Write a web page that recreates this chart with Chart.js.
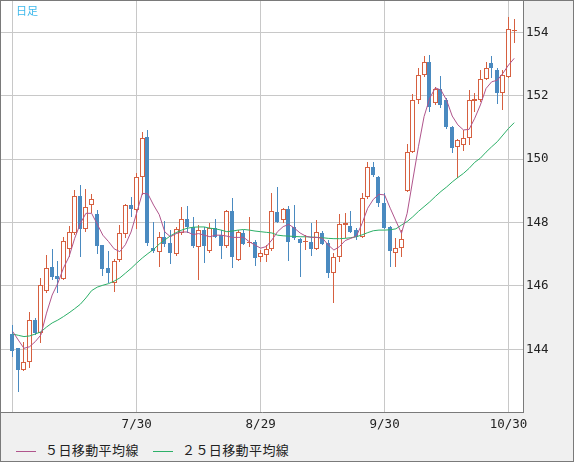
<!DOCTYPE html>
<html lang="ja">
<head>
<meta charset="utf-8">
<title>日足</title>
<script src="https://cdn.jsdelivr.net/npm/chart.js@4.4.1/dist/chart.umd.min.js"></script>
<style>
  html, body { margin: 0; padding: 0; background: #f0f0f0; }
  #frame {
    position: relative; width: 574px; height: 462px; box-sizing: border-box;
    border: 1px solid #7a7a7a; background: #f0f0f0; overflow: hidden;
  }
  #chart { position: absolute; left: 0; top: 0; }
  #mark {
    position: absolute; left: 15px; top: 3px; z-index: 2;
    font: 11px "Noto Sans CJK JP", sans-serif; color: #3cb8ec; line-height: 13px;
  }
  .key {
    position: absolute; top: 439px; height: 16px; line-height: 16px;
    font: 13px "Noto Sans CJK JP", sans-serif; color: #222; letter-spacing: 0.4px;
    white-space: nowrap;
  }
  .key i { display: inline-block; width: 20px; height: 1px; vertical-align: middle; margin-right: 9px; }
</style>
</head>
<body>
<div id="frame">
  <canvas id="chart" width="572" height="437"></canvas>
  <div id="mark">日足</div>
  <div class="key" style="left:15px"><i style="background:#b0558c"></i>５日移動平均線</div>
  <div class="key" style="left:152px"><i style="background:#2cb068"></i>２５日移動平均線</div>
</div>
<script>
const dates = [
  '6/28','7/1','7/2','7/3','7/4','7/5','7/8','7/9','7/10','7/11',
  '7/12','7/15','7/16','7/17','7/18','7/19','7/22','7/23','7/24','7/25',
  '7/26','7/29','7/30','7/31','8/1','8/2','8/5','8/6','8/7','8/8',
  '8/9','8/12','8/13','8/14','8/15','8/16','8/19','8/20','8/21','8/22',
  '8/23','8/26','8/27','8/28','8/29','8/30','9/2','9/3','9/4','9/5',
  '9/6','9/9','9/10','9/11','9/12','9/13','9/16','9/17','9/18','9/19',
  '9/20','9/23','9/24','9/25','9/26','9/27','9/30','10/1','10/2','10/3',
  '10/4','10/7','10/8','10/9','10/10','10/11','10/14','10/15','10/16','10/17',
  '10/18','10/21','10/22','10/23','10/24','10/25','10/28','10/29','10/30','10/31'
];

const opens = [
  144.48,144.03,143.35,143.59,144.92,144.52,145.84,146.59,146.31,146.23,
  147.15,147.66,148.84,147.79,148.54,148.26,147.29,146.56,146.10,146.82,
  147.64,148.55,148.39,149.44,150.71,147.20,147.08,147.53,147.34,147.00,
  147.68,148.11,147.87,147.24,147.76,147.11,147.82,147.61,147.27,148.36,
  146.82,147.66,147.36,147.38,146.90,146.97,147.15,148.33,148.08,148.43,
  147.87,147.47,147.38,147.38,147.17,147.66,147.34,146.42,146.92,147.93,
  147.89,147.76,147.53,148.79,149.74,149.43,148.61,147.85,147.03,147.19,
  149.00,150.23,151.86,152.65,153.05,151.76,152.20,151.86,151.00,150.37,
  150.45,150.66,151.84,151.86,152.53,153.02,152.81,152.08,152.60,154.03
];
const highs = [
  144.77,144.05,144.22,145.19,144.98,146.25,146.97,147.16,146.80,147.55,
  147.90,149.03,149.18,149.06,148.90,148.40,147.30,147.10,146.85,147.91,
  148.58,148.80,149.55,150.85,150.92,148.03,147.71,148.06,147.76,147.87,
  148.48,148.52,148.18,147.91,147.85,147.97,148.10,147.76,148.39,148.76,
  147.76,147.76,148.16,147.45,147.13,147.29,148.92,149.13,148.45,148.52,
  148.55,147.50,147.61,147.97,148.08,147.73,147.45,147.03,148.27,148.29,
  148.36,147.82,148.92,149.92,149.92,149.47,148.92,147.90,147.50,147.76,
  150.47,152.05,152.86,153.25,153.28,152.28,152.62,151.93,151.05,150.62,
  150.92,152.18,152.08,152.81,153.07,153.25,152.86,152.81,154.47,154.41
];
const lows = [
  143.77,142.66,143.30,143.42,144.45,144.19,145.77,146.20,145.77,146.19,
  146.92,147.60,146.92,147.70,148.30,147.00,146.31,146.10,145.82,146.75,
  147.50,148.18,147.79,148.87,147.26,147.03,146.60,147.24,146.68,146.95,
  147.60,147.66,147.20,146.19,146.71,147.05,147.50,146.85,147.20,146.56,
  146.79,147.29,147.24,146.64,146.74,146.76,147.10,148.00,148.00,146.79,
  147.45,146.29,147.13,146.94,147.13,147.29,146.24,145.47,146.76,147.50,
  147.66,147.45,147.50,148.75,149.44,148.50,147.80,146.59,146.59,146.92,
  148.97,150.20,151.74,152.60,151.50,151.70,151.60,150.95,150.20,149.39,
  150.27,150.45,151.50,151.80,152.50,152.55,151.74,151.55,152.55,153.65
];
const closes = [
  143.96,143.35,143.59,144.91,144.52,146.02,146.56,146.29,146.21,147.41,
  147.69,148.84,147.79,148.50,148.73,147.27,146.54,146.42,146.80,147.66,
  148.55,148.44,149.43,150.66,147.34,147.09,147.55,147.32,147.05,147.79,
  148.10,147.85,147.26,147.76,147.26,147.82,147.55,147.27,148.36,146.92,
  147.69,147.33,147.39,146.89,147.03,147.15,148.36,148.03,148.42,147.39,
  147.50,147.34,147.43,147.16,147.69,147.32,146.42,146.90,147.95,147.97,
  147.71,147.53,148.76,149.74,149.50,148.61,147.84,147.10,147.19,147.47,
  150.23,151.86,152.65,153.05,151.65,152.20,151.71,151.02,150.36,150.60,
  150.66,151.86,151.89,152.52,152.86,152.86,152.09,152.65,154.10,154.07
];

// 移動平均線
const ma5 = [
  144.56,144.29,144.03,144.08,144.24,144.45,145.14,145.71,146.08,146.56,
  146.92,147.50,147.97,148.29,148.29,147.95,147.60,147.40,147.17,147.08,
  147.30,147.70,148.30,148.92,148.90,148.55,148.25,147.70,147.55,147.65,
  147.70,147.70,147.62,147.65,147.60,147.55,147.60,147.60,147.57,147.53,
  147.53,147.53,147.39,147.29,147.19,147.24,147.45,147.71,147.87,147.94,
  147.82,147.67,147.57,147.53,147.53,147.50,147.29,147.13,147.24,147.43,
  147.50,147.57,147.97,148.45,148.73,148.89,148.87,148.45,148.05,147.66,
  148.29,149.34,150.39,151.34,151.92,152.25,152.18,151.86,151.36,151.08,
  150.92,150.94,151.29,151.71,152.23,152.44,152.49,152.71,152.97,153.18
];
const ma25 = [
  144.48,144.44,144.40,144.42,144.48,144.55,144.70,144.83,144.92,145.03,
  145.15,145.28,145.42,145.62,145.85,145.96,146.02,146.07,146.15,146.25,
  146.40,146.55,146.72,146.88,147.02,147.15,147.32,147.45,147.58,147.68,
  147.76,147.82,147.85,147.86,147.86,147.82,147.80,147.76,147.71,147.73,
  147.76,147.78,147.76,147.73,147.71,147.69,147.67,147.60,147.58,147.57,
  147.56,147.55,147.55,147.54,147.53,147.52,147.50,147.49,147.49,147.50,
  147.52,147.55,147.61,147.68,147.74,147.76,147.76,147.77,147.80,147.92,
  148.03,148.18,148.35,148.50,148.65,148.82,148.98,149.12,149.28,149.42,
  149.55,149.71,149.90,150.03,150.22,150.39,150.55,150.76,150.97,151.15
];

const priceTicks = [144, 146, 148, 150, 152, 154];
const gridIdx = [0, 22, 44, 66, 88];
const labelIdx = [22, 44, 66, 88];

const RED = '#d66040';
const BLUE = '#4a8ac0';
const tickFont = { family: '"DejaVu Sans Mono", monospace', size: 12.5 };
const up = i => closes[i] >= opens[i];

// candle bodies: up days are red outlines, down days solid blue
const bodies = want => dates
  .map((d, i) => ({ x: i, y: [opens[i], closes[i]] }))
  .filter(p => up(p.x) === want);

// white plot area on the grey frame
const plotBg = {
  id: 'plotBg',
  beforeDraw(chart) {
    const { ctx, chartArea: a } = chart;
    ctx.save();
    ctx.fillStyle = '#ffffff';
    ctx.fillRect(a.left, a.top, a.width, a.height);
    ctx.restore();
  }
};

// put the candle rectangles on whole pixels so the outlines stay sharp
const snapBars = {
  id: 'snapBars',
  afterDatasetsUpdate(chart) {
    chart.data.datasets.forEach((ds, k) => {
      const meta = chart.getDatasetMeta(k);
      if (meta.type !== 'bar') return;
      const half = ds.barThickness % 2 ? 0.5 : 0;
      meta.data.forEach(el => {
        el.x = Math.floor(el.x) + half;
        el.y = Math.round(el.y);
        el.base = Math.round(el.base);
        if (el.y === el.base) el.y -= 1;
      });
    });
  }
};

new Chart(document.getElementById('chart'), {
  type: 'bar',
  data: {
    datasets: [
      {
        label: 'wick',
        data: dates.map((d, i) => ({ x: i, y: [lows[i], highs[i]] })),
        backgroundColor: c => up(c.dataIndex) ? RED : BLUE,
        borderWidth: 0,
        barThickness: 1,
        grouped: false,
        inflateAmount: 0,
        order: 3
      },
      {
        label: 'up',
        data: bodies(true),
        backgroundColor: '#ffffff',
        borderColor: RED,
        borderWidth: 1,
        borderSkipped: false,
        barThickness: 5,
        minBarLength: 1,
        grouped: false,
        inflateAmount: 0,
        order: 2
      },
      {
        label: 'down',
        data: bodies(false),
        backgroundColor: BLUE,
        borderWidth: 0,
        barThickness: 4,
        minBarLength: 1,
        grouped: false,
        inflateAmount: 0,
        order: 1
      },
      {
        type: 'line',
        label: '５日移動平均線',
        data: ma5.map((v, i) => ({ x: i, y: v })),
        borderColor: '#b0558c',
        borderWidth: 1,
        pointRadius: 0,
        order: 0
      },
      {
        type: 'line',
        label: '２５日移動平均線',
        data: ma25.map((v, i) => ({ x: i, y: v })),
        borderColor: '#2cb068',
        borderWidth: 1,
        pointRadius: 0,
        order: 0
      }
    ]
  },
  options: {
    responsive: false,
    animation: false,
    events: [],
    layout: { padding: 0 },
    plugins: { legend: { display: false }, tooltip: { enabled: false } },
    scales: {
      x: {
        type: 'linear',
        offset: false,
        min: -2.076,
        max: 90.56,
        afterBuildTicks: s => { s.ticks = gridIdx.map(v => ({ value: v })); },
        afterFit: s => { s.height = 26; s.paddingLeft = 0; s.paddingRight = 0; },
        ticks: {
          autoSkip: false,
          maxRotation: 0,
          padding: 5,
          color: '#222',
          font: tickFont,
          callback: v => labelIdx.includes(v) ? dates[v] : ''
        },
        grid: { color: '#c8c8c8', drawTicks: false, offset: false },
        border: { color: '#7a7a7a' }
      },
      y: {
        position: 'right',
        min: 142.02,
        max: 154.99,
        afterBuildTicks: s => { s.ticks = priceTicks.map(v => ({ value: v })); },
        afterFit: s => { s.width = 50; s.paddingTop = 0; s.paddingBottom = 0; },
        ticks: { padding: 3, color: '#222', font: tickFont },
        grid: { color: '#c8c8c8', drawTicks: false },
        border: { color: '#7a7a7a' }
      }
    }
  },
  plugins: [plotBg, snapBars]
});
</script>
</body>
</html>
